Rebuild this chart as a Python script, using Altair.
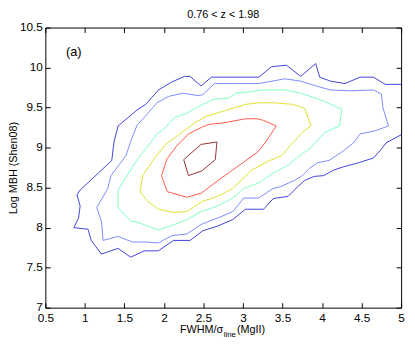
import altair as alt
import pandas as pd

# Contour levels (outer -> inner), data coordinates
c1_x = [5.00, 4.81, 4.75, 4.65, 4.46, 4.27, 4.15, 4.02, 3.90, 3.78, 3.69, 3.57, 3.42, 3.38, 3.26, 3.03,
        2.87, 2.68, 2.49, 2.33, 2.12, 1.93, 1.75, 1.58, 1.42, 1.21, 1.08, 1.04, 0.86, 0.92, 0.94, 0.90,
        0.94, 1.19, 1.34, 1.37, 1.42, 1.66, 1.77, 1.93, 2.10, 2.26, 2.33, 2.47, 2.60, 3.01, 3.20, 3.36,
        3.55, 3.73, 3.92, 3.97, 4.11, 4.29, 4.48, 4.65, 4.80, 5.00]
c1_y = [9.16, 9.06, 8.98, 8.87, 8.81, 8.76, 8.72, 8.65, 8.64, 8.59, 8.51, 8.39, 8.37, 8.36, 8.23, 8.23,
        8.10, 8.02, 7.96, 7.84, 7.84, 7.71, 7.71, 7.63, 7.74, 7.67, 7.84, 7.98, 8.00, 8.12, 8.27, 8.41,
        8.47, 8.70, 8.84, 9.08, 9.27, 9.47, 9.54, 9.72, 9.82, 9.89, 9.89, 9.77, 9.88, 9.88, 9.88, 10.01,
        10.03, 9.89, 10.05, 9.88, 9.83, 9.80, 9.88, 9.88, 9.79, 9.79]

c2_x = [1.23, 1.21, 1.15, 1.29, 1.33, 1.52, 1.58, 1.66, 1.79, 1.91, 2.06, 2.24, 2.43, 2.49, 2.64, 2.87,
        3.20, 3.53, 3.73, 3.96, 4.11, 4.36, 4.65, 4.75, 4.77, 4.84, 4.67, 4.48, 4.40, 4.27, 4.09, 3.94,
        3.84, 3.75, 3.65, 3.47, 3.38, 3.20, 3.01, 2.87, 2.68, 2.47, 2.29, 2.10, 1.93, 1.75, 1.60, 1.42, 1.23]
c2_y = [7.84, 8.08, 8.25, 8.49, 8.65, 8.90, 9.08, 9.28, 9.42, 9.56, 9.64, 9.68, 9.65, 9.66, 9.80, 9.80,
        9.80, 9.86, 9.83, 9.76, 9.72, 9.71, 9.72, 9.67, 9.50, 9.27, 9.21, 9.17, 9.06, 8.96, 8.84, 8.81,
        8.74, 8.65, 8.59, 8.51, 8.49, 8.37, 8.37, 8.20, 8.12, 8.04, 7.92, 7.90, 7.81, 7.82, 7.82, 7.89, 7.84]

c3_x = [1.42, 1.42, 1.64, 1.83, 1.91, 2.02, 2.14, 2.29, 2.43, 2.62, 2.82, 2.91, 3.11, 3.24, 3.53, 3.73,
        4.00, 4.25, 4.22, 4.15, 4.02, 3.86, 3.69, 3.57, 3.38, 3.20, 3.01, 2.87, 2.68, 2.47, 2.29, 2.08,
        1.93, 1.66, 1.58, 1.42]
c3_y = [8.25, 8.47, 8.82, 9.06, 9.17, 9.25, 9.38, 9.43, 9.51, 9.60, 9.62, 9.68, 9.70, 9.72, 9.72, 9.68,
        9.59, 9.48, 9.27, 9.24, 9.18, 9.00, 8.88, 8.78, 8.68, 8.56, 8.49, 8.37, 8.27, 8.20, 8.10, 8.02,
        7.97, 8.07, 8.08, 8.25]

c4_x = [1.70, 1.73, 1.89, 2.02, 2.20, 2.39, 2.53, 2.80, 3.03, 3.20, 3.40, 3.63, 3.78, 3.86, 3.75, 3.61,
        3.49, 3.32, 3.11, 2.87, 2.68, 2.49, 2.29, 2.12, 1.93, 1.79, 1.70]
c4_y = [8.45, 8.65, 8.88, 9.04, 9.17, 9.31, 9.39, 9.47, 9.54, 9.56, 9.56, 9.54, 9.49, 9.27, 9.19, 9.04,
        8.90, 8.83, 8.72, 8.49, 8.39, 8.33, 8.20, 8.19, 8.23, 8.33, 8.45]

c5_x = [1.97, 2.04, 2.16, 2.31, 2.49, 2.57, 2.76, 3.03, 3.18, 3.26, 3.42, 3.28, 3.18, 3.01, 2.84, 2.66,
        2.47, 2.29, 2.04, 1.97]
c5_y = [8.65, 8.86, 9.02, 9.17, 9.26, 9.29, 9.31, 9.36, 9.36, 9.34, 9.27, 9.06, 8.94, 8.82, 8.70, 8.57,
        8.43, 8.38, 8.45, 8.65]

c6_x = [2.25, 2.47, 2.67, 2.65, 2.48, 2.31, 2.25]
c6_y = [8.85, 9.04, 9.07, 8.85, 8.71, 8.65, 8.85]

levels = ["L1", "L2", "L3", "L4", "L5", "L6"]
colors = ["#4040d8", "#7a8cff", "#7dffc0", "#e0e030", "#ff5a48", "#963030"]

x_ticks = [0.5, 1, 1.5, 2, 2.5, 3, 3.5, 4, 4.5, 5]
y_ticks = [7, 7.5, 8, 8.5, 9, 9.5, 10, 10.5]

title_text = "0.76 < z < 1.98"
panel_label = "(a)"
panel_pos = [0.76, 10.19]
y_title = "Log MBH (Shen08)"

rows = []
for lev, xs, ys in zip(levels, [c1_x, c2_x, c3_x, c4_x, c5_x, c6_x],
                       [c1_y, c2_y, c3_y, c4_y, c5_y, c6_y]):
    for i, (a, b) in enumerate(zip(xs, ys)):
        rows.append({"level": lev, "i": i, "x": a, "y": b})
df = pd.DataFrame(rows)

FONT = "Liberation Sans"
xs_scale = alt.Scale(domain=[0.5, 5], nice=False, zero=False)
ys_scale = alt.Scale(domain=[7, 10.5], nice=False, zero=False)

x_axis = alt.Axis(values=x_ticks, format="~g", title=None, grid=False, domain=False,
                  tickSize=5, offset=-5, tickColor="black", labelPadding=5, labelFlush=False,
                  labelFont=FONT, labelFontSize=12, labelColor="black")
y_axis = alt.Axis(values=y_ticks, format="~g", title=y_title, grid=False, domain=False,
                  tickSize=5, offset=-5, tickColor="black", labelPadding=3, labelFlush=False,
                  labelOffset=-1,
                  labelFont=FONT, labelFontSize=12, labelColor="black",
                  titleFont=FONT, titleFontSize=11, titleFontWeight="normal",
                  titleColor="black", titlePadding=1)
x_top = alt.Axis(orient="top", values=x_ticks, labels=False, title=None, grid=False,
                 domain=False, tickSize=5, offset=-5, tickColor="black")
y_right = alt.Axis(orient="right", values=y_ticks, labels=False, title=None, grid=False,
                   domain=False, tickSize=5, offset=-5, tickColor="black")

lines = alt.Chart(df).mark_line(strokeWidth=1, clip=True).encode(
    x=alt.X("x:Q", scale=xs_scale, axis=x_axis),
    y=alt.Y("y:Q", scale=ys_scale, axis=y_axis),
    color=alt.Color("level:N", scale=alt.Scale(domain=levels, range=colors), legend=None),
    order="i:Q",
)

frame = alt.Chart(df).mark_line(opacity=0).encode(
    x=alt.X("x:Q", scale=xs_scale, axis=x_top),
    y=alt.Y("y:Q", scale=ys_scale, axis=y_right),
    detail="level:N",
    order="i:Q",
)

lab_df = pd.DataFrame({"x": [panel_pos[0]], "y": [panel_pos[1]], "t": [panel_label]})
label = alt.Chart(lab_df).mark_text(align="left", baseline="middle", font=FONT,
                                    fontSize=13, color="black").encode(
    x=alt.X("x:Q", scale=xs_scale, axis=None),
    y=alt.Y("y:Q", scale=ys_scale, axis=None),
    text="t:N",
)

title_mark = alt.Chart(pd.DataFrame({"t": [title_text]})).mark_text(
    align="center", baseline="alphabetic", font=FONT, fontSize=11, color="black"
).encode(x=alt.value(181), y=alt.value(-10), text="t:N")

xt_main = alt.Chart(pd.DataFrame({"t": ["FWHM/σ"]})).mark_text(
    align="right", baseline="alphabetic", font=FONT, fontSize=11, color="black"
).encode(x=alt.value(181), y=alt.value(311), text="t:N")
xt_sub = alt.Chart(pd.DataFrame({"t": ["line"]})).mark_text(
    align="left", baseline="alphabetic", font=FONT, fontSize=8, color="black"
).encode(x=alt.value(181.5), y=alt.value(315), text="t:N")
xt_end = alt.Chart(pd.DataFrame({"t": ["(MgII)"]})).mark_text(
    align="left", baseline="alphabetic", font=FONT, fontSize=11, color="black"
).encode(x=alt.value(195), y=alt.value(311), text="t:N")

chart = alt.layer(lines, frame, label, title_mark, xt_main, xt_sub, xt_end).resolve_axis(
    x="independent", y="independent"
).properties(
    width=362, height=285,
    padding={"left": 38, "top": 17, "right": 6, "bottom": 30},
    autosize=alt.AutoSizeParams(type="none"),
).configure_view(stroke="black", strokeWidth=1)

chart.save("out.html", embed_options={"renderer": "svg", "actions": False})
